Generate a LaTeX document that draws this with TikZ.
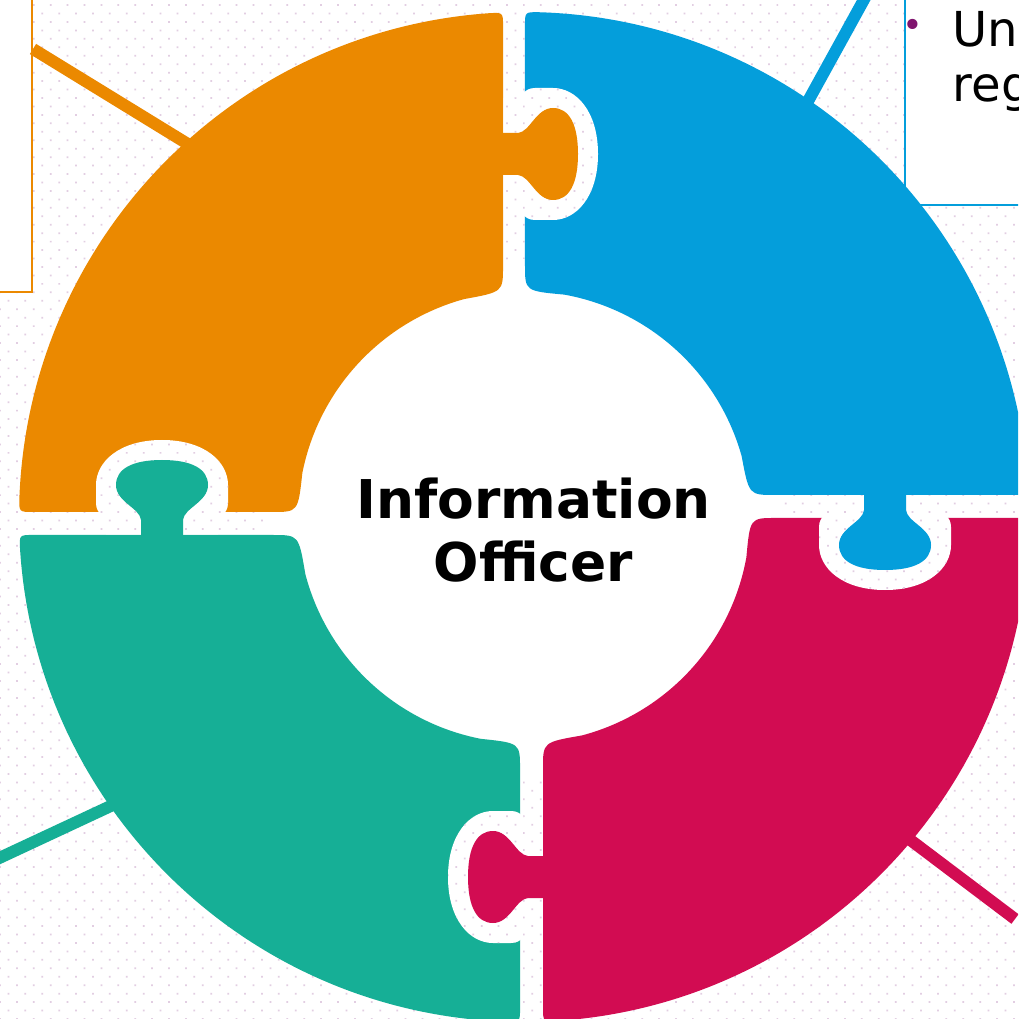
\documentclass[tikz,border=0pt]{standalone}
\usepackage{fontspec}
\usepackage{tikz}
\usetikzlibrary{calc}
\usetikzlibrary{patterns.meta}

\newfontfamily\vfont{DejaVu Sans}

\definecolor{orangec}{RGB}{235,137,0}
\definecolor{bluec}{RGB}{4,158,219}
\definecolor{tealc}{RGB}{22,175,150}
\definecolor{magc}{RGB}{210,12,82}
\definecolor{dotc}{RGB}{226,206,226}
\definecolor{bulc}{RGB}{128,20,110}

\tikzset{
    hole/.style={preaction={fill=white}, pattern={Dots[distance=3.4pt, angle=45, radius=0.35pt]}, pattern color=dotc},
    link/.style={line width=3.4pt},
    boxline/.style={line width=0.6pt, fill=white},
}

% ring piece: #1 colour, #2/#3 outer corner angles, #4/#5 inner corner angles
\newcommand{\piece}[5]{%
    \coordinate (pa) at ($(c)+(#2:505)$);
    \coordinate (pb) at ($(c)+(#3:505)$);
    \coordinate (pc) at ($(c)+(#4:226)$);
    \coordinate (pd) at ($(c)+(#5:226)$);
    \fill[#1] ($(c)+({#2+1.6*sign(#3-#2)}:505)$)
        arc[start angle={#2+1.6*sign(#3-#2)}, end angle={#3-1.6*sign(#3-#2)}, radius=505]
        .. controls (pb) .. ($(pb)!1.4mm!(pc)$) -- ($(pc)!2.6mm!(pb)$)
        .. controls (pc) .. ($(c)+({#4-10*sign(#4-#5)}:226)$)
        arc[start angle={#4-10*sign(#4-#5)}, end angle={#5+10*sign(#4-#5)}, radius=226]
        .. controls (pd) .. ($(pd)!2.6mm!(pa)$) -- ($(pa)!1.4mm!(pd)$)
        .. controls (pa) .. ($(c)+({#2+1.6*sign(#3-#2)}:505)$) -- cycle;
}

% tab and its socket, drawn along +x from the edge of the piece
\newcommand{\knobpath}{(-3,-21) -- (15,-21) .. controls (27,-22) and (33,-46) .. (50,-46)
    .. controls (66,-46) and (75,-30) .. (75,0) .. controls (75,30) and (66,46) .. (50,46)
    .. controls (33,46) and (27,22) .. (15,21) -- (-3,21) -- cycle}
\newcommand{\sockpath}{(0.5,-56) -- (10,-56) .. controls (20,-56) and (20,-66) .. (32,-66) -- (50,-66)
    .. controls (73,-66) and (95,-43) .. (95,0) .. controls (95,43) and (73,66) .. (50,66)
    -- (32,66) .. controls (20,66) and (20,56) .. (10,56) -- (0.5,56) -- cycle}

\begin{document}
\begin{tikzpicture}[x=0.1mm, y=-0.1mm]
    \useasboundingbox (0,0) rectangle (1018,1019);
    \clip (0,0) rectangle (1018,1019);
    \fill[hole] (0,0) rectangle (1018,1019);
    \coordinate (c) at (524,517);
    \fill[white] (c) circle[radius=258];

    \draw[boxline, draw=orangec] (-10,-10) rectangle (32,292);
    \draw[boxline, draw=bluec] (905,-10) rectangle (1030,205);
    \node[text=bulc, font=\vfont\fontsize{10}{10}\selectfont] (bul) at (913,28) {•};
    \node[font=\vfont\fontsize{13.7}{15.6}\selectfont, anchor=base west, inner sep=0] (un) at (952,47) {Un};
    \node[font=\vfont\fontsize{13.7}{15.6}\selectfont, anchor=base west, inner sep=0] (reg) at (952,102) {reg};

    \coordinate (ob) at (240,176); \coordinate (oe) at (33,49);
    \coordinate (bb) at (780,152); \coordinate (be) at (872,-15);
    \coordinate (tb) at (160,783); \coordinate (te) at (-20,867);
    \coordinate (mb) at (860,802); \coordinate (me) at (1015,919);
    \draw[link, orangec] (ob) -- (oe);
    \draw[link, bluec] (bb) -- (be);
    \draw[link, tealc] (tb) -- (te);
    \draw[link, magc] (mb) -- (me);

    \piece{orangec}{180.57}{267.62}{264.67}{181.27}
    \piece{bluec}{270.11}{357.5}{354.41}{270.25}
    \piece{tealc}{177.96}{90.45}{91.01}{175.43}
    \piece{magc}{0.11}{87.84}{85.18}{0.25}

    \foreach \px/\py/\rot/\col in {503/154/0/orangec, 162/535/90/tealc, 885/495/-90/bluec, 543/877/180/magc} {
        \begin{scope}[shift={(\px,\py)}, rotate=\rot]
            \begin{scope}
                \clip \sockpath;
                \fill[hole, reset cm] (0,0) rectangle (1018,1019);
            \end{scope}
            \fill[\col] \knobpath;
        \end{scope}
    }

    \node[font=\vfont\bfseries\fontsize{15.2}{17.9}\selectfont, align=center] (io) at (533.5,530) {Information\\Officer};
\end{tikzpicture}
\end{document}
